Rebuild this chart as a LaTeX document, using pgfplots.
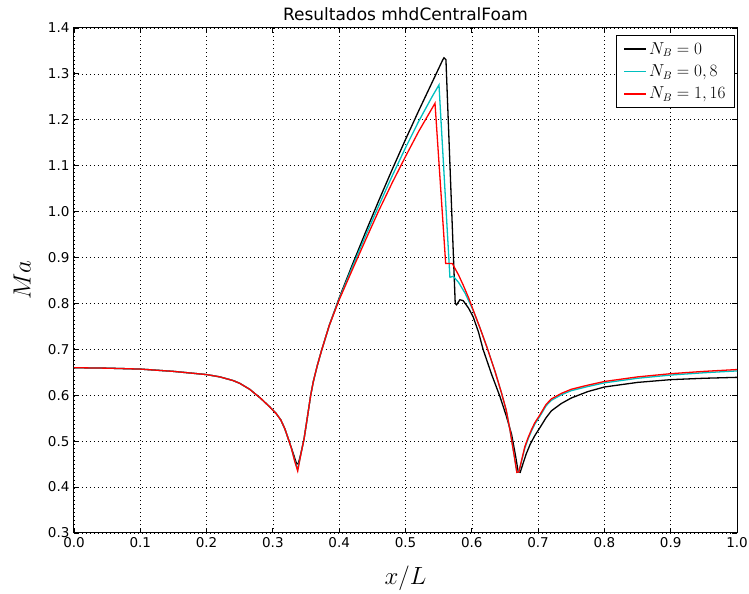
\documentclass[border=0pt]{standalone}
\usepackage{fontspec}
\setmainfont{DejaVu Sans}
\usepackage{pgfplots}
\pgfplotsset{compat=1.18}
\definecolor{mplcyan}{rgb}{0,0.75,0.75}
\begin{document}
\begin{tikzpicture}
\begin{axis}[
  scale only axis, width=663pt, height=505pt,
  xmin=0, xmax=1, ymin=0.3, ymax=1.4,
  xtick={0,0.1,0.2,0.3,0.4,0.5,0.6,0.7,0.8,0.9,1.0},
  ytick={0.3,0.4,0.5,0.6,0.7,0.8,0.9,1.0,1.1,1.2,1.3,1.4},
  /pgf/number format/assume math mode=true,
  xticklabel style={yshift=-1pt, /pgf/number format/.cd, fixed, fixed zerofill, precision=1},
  yticklabel style={xshift=-1pt, /pgf/number format/.cd, fixed, fixed zerofill, precision=1},
  tick label style={font=\fontsize{13.5}{15}\selectfont},
  tick align=inside, tick pos=both, major tick length=5pt,
  tick style={black, line width=0.8pt},
  grid=major, grid style={black, line width=0.6pt, dash pattern=on 1pt off 3pt},
  axis line style={line width=1pt},
  title={Resultados mhdCentralFoam},
  title style={font=\fontsize{17}{20}\selectfont, yshift=-2pt},
  xlabel={$x/L$}, ylabel={$Ma$},
  xlabel style={font=\fontsize{29}{32}\selectfont, at={(axis description cs:0.5,-0.0891)}, anchor=center},
  ylabel style={font=\fontsize{29}{32}\selectfont, at={(axis description cs:-0.0784,0.5)}, anchor=center},
  legend style={at={(0.997,0.986)}, anchor=north east, draw=black, line width=1pt,
    font=\fontsize{16}{18}\selectfont, row sep=5pt, inner xsep=7pt, inner ysep=5pt,
    /tikz/every even column/.append style={column sep=4pt}},
  legend cell align=left,
  legend image code/.code={\draw[#1, line width=1.5pt] (0pt,0pt) -- (22pt,0pt);},
]
\coordinate (bbsw) at (rel axis cs:-0.1116,-0.1208);
\coordinate (bbne) at (rel axis cs:1.0181,1.0554);

\addplot[black, line width=1.3pt] coordinates {
(0.000,0.660) (0.050,0.659) (0.100,0.657) (0.150,0.652) (0.200,0.645) (0.220,0.640)
(0.240,0.632) (0.250,0.626) (0.265,0.613) (0.281,0.594) (0.295,0.575) (0.305,0.560)
(0.312,0.546) (0.318,0.527) (0.323,0.506) (0.328,0.485) (0.333,0.463) (0.336,0.450)
(0.3385,0.452) (0.342,0.472) (0.347,0.505) (0.352,0.552) (0.357,0.600) (0.361,0.630)
(0.367,0.665) (0.3735,0.698) (0.385,0.752) (0.400,0.812)
(0.420,0.885) (0.440,0.956) (0.460,1.025) (0.480,1.092) (0.500,1.157) (0.520,1.220)
(0.540,1.281) (0.556,1.330) (0.558,1.335) (0.561,1.331) (0.575,0.800) (0.577,0.797)
(0.582,0.808) (0.587,0.806) (0.595,0.790) (0.602,0.771) (0.610,0.738) (0.617,0.700)
(0.630,0.645) (0.6425,0.597) (0.652,0.555) (0.660,0.515) (0.666,0.468) (0.670,0.433)
(0.673,0.432) (0.677,0.450) (0.682,0.472) (0.688,0.493) (0.695,0.512) (0.703,0.530)
(0.712,0.551) (0.720,0.566) (0.735,0.582) (0.750,0.594) (0.775,0.608) (0.800,0.618)
(0.850,0.628) (0.900,0.634) (0.950,0.637) (1.000,0.639)
};
\addlegendentry{$N_B=0$}

\addplot[mplcyan, line width=1.3pt] coordinates {
(0.000,0.660) (0.050,0.659) (0.100,0.657) (0.150,0.652) (0.200,0.645) (0.220,0.640)
(0.240,0.632) (0.250,0.626) (0.265,0.613) (0.281,0.594) (0.295,0.575) (0.305,0.560)
(0.312,0.546) (0.318,0.527) (0.323,0.506) (0.328,0.484) (0.333,0.457) (0.3374,0.438)
(0.342,0.470) (0.347,0.505) (0.352,0.552) (0.357,0.600) (0.361,0.630)
(0.367,0.665) (0.3735,0.698) (0.385,0.752) (0.400,0.810)
(0.420,0.880) (0.440,0.948) (0.460,1.014) (0.480,1.078) (0.500,1.139) (0.520,1.197)
(0.540,1.250) (0.5505,1.276) (0.567,0.857) (0.572,0.859) (0.580,0.846) (0.590,0.822)
(0.602,0.785) (0.612,0.748) (0.6225,0.706) (0.635,0.652) (0.645,0.604) (0.652,0.567)
(0.6576,0.524) (0.664,0.468) (0.668,0.432) (0.671,0.433) (0.675,0.456) (0.680,0.485)
(0.685,0.505) (0.690,0.522) (0.695,0.537) (0.703,0.555) (0.712,0.577) (0.720,0.589)
(0.735,0.601) (0.750,0.610) (0.775,0.619) (0.800,0.627) (0.850,0.637) (0.900,0.644)
(0.950,0.649) (1.000,0.653)
};
\addlegendentry{$N_B=0,8$}

\addplot[red, line width=1.3pt] coordinates {
(0.000,0.660) (0.050,0.659) (0.100,0.657) (0.150,0.652) (0.200,0.645) (0.220,0.640)
(0.240,0.632) (0.250,0.626) (0.265,0.613) (0.281,0.594) (0.295,0.575) (0.305,0.560)
(0.312,0.546) (0.318,0.527) (0.323,0.506) (0.328,0.484) (0.333,0.456) (0.3374,0.435)
(0.342,0.470) (0.347,0.505) (0.352,0.552) (0.357,0.600) (0.361,0.630)
(0.367,0.665) (0.3735,0.698) (0.385,0.752) (0.400,0.808)
(0.420,0.874) (0.440,0.939) (0.460,1.003) (0.480,1.063) (0.500,1.120) (0.520,1.175)
(0.5445,1.236) (0.5606,0.887) (0.5706,0.887) (0.580,0.862) (0.587,0.840) (0.595,0.813)
(0.602,0.786) (0.612,0.748) (0.6225,0.706) (0.635,0.652) (0.645,0.604) (0.652,0.567)
(0.6576,0.524) (0.664,0.468) (0.668,0.432) (0.671,0.433) (0.675,0.458) (0.680,0.488)
(0.685,0.508) (0.690,0.525) (0.695,0.540) (0.703,0.558) (0.712,0.580) (0.720,0.592)
(0.735,0.604) (0.750,0.613) (0.775,0.622) (0.800,0.630) (0.850,0.640) (0.900,0.647)
(0.950,0.652) (1.000,0.656)
};
\addlegendentry{$N_B=1,16$}
\end{axis}
\pgfresetboundingbox
\path[use as bounding box] (bbsw) rectangle (bbne);
\end{tikzpicture}
\end{document}
